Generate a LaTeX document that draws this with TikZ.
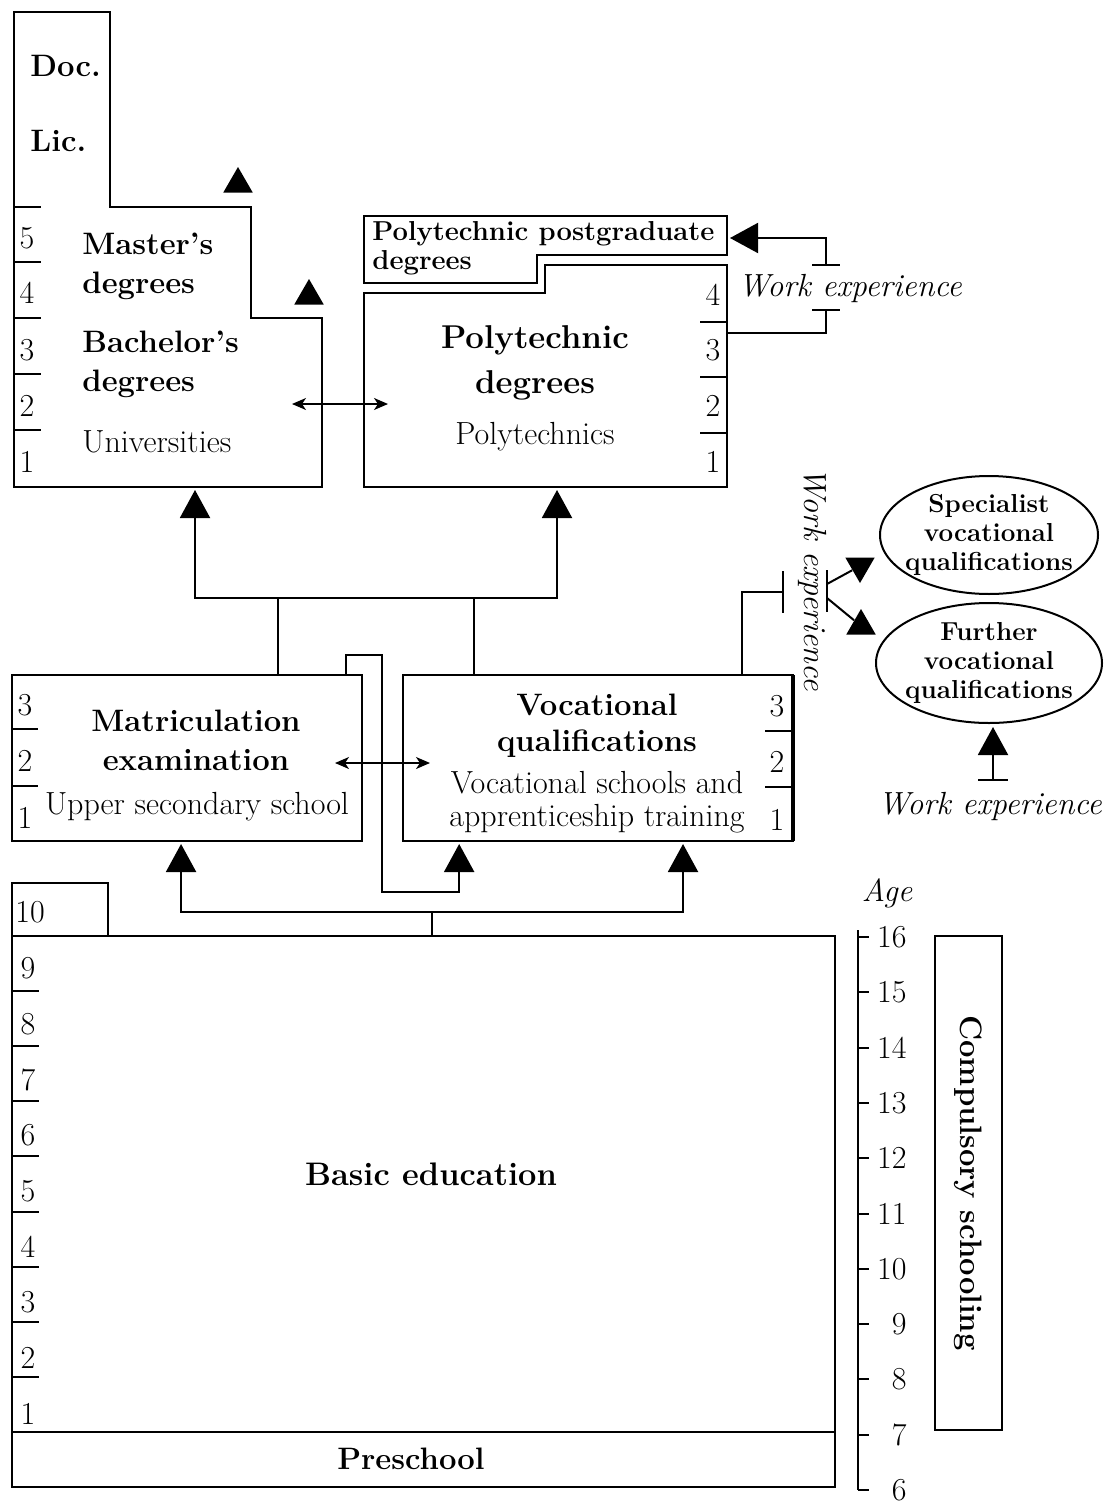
\documentclass[tikz,border=0pt]{standalone}
\usepackage{tikz}
\usetikzlibrary{arrows.meta, positioning, calc, shapes.geometric}

\tikzset{
  outl/.style={draw, line width=1pt, line join=miter},
  box/.style={draw, line width=1pt, outer sep=0pt, inner sep=0pt},
  wire/.style={line width=1pt},
  wbar/.style={line width=1pt},
  upto/.style={wire, -{Triangle[width=15pt,length=14pt]}, shorten >=1.5pt},
  twoway/.style={line width=0.8pt, {Stealth[length=7pt,width=6pt,inset=2pt]}-{Stealth[length=7pt,width=6pt,inset=2pt]}},
  tri/.style={regular polygon, regular polygon sides=3, fill, inner sep=0pt, minimum size=17pt},
  hd/.style={font=\fontsize{15.5}{19.5}\selectfont\bfseries, align=center, inner sep=0pt},
  hdl/.style={font=\fontsize{16.5}{22.5}\selectfont\bfseries, align=center, inner sep=0pt},
  pgt/.style={font=\fontsize{13.7}{14.5}\selectfont\bfseries, align=left, inner sep=0pt},
  sub/.style={font=\fontsize{16}{16.2}\selectfont, align=center, inner sep=0pt},
  yr/.style={font=\fontsize{16}{16}\selectfont, inner sep=0pt},
  wx/.style={font=\fontsize{16}{16}\selectfont\itshape, inner sep=0pt},
  oval/.style={ellipse, draw, line width=1pt, inner sep=-4pt, minimum width=109pt, minimum height=59pt,
    align=center, font=\fontsize{13}{14.3}\selectfont\bfseries}
}

\begin{document}
\begin{tikzpicture}[x=0.5pt, y=-0.5pt]
  \useasboundingbox (0,0) rectangle (1111,1504);

  % universities
  \draw[outl] (14,12) -- (110,12) -- (110,207) -- (251,207) -- (251,318)
    -- (322,318) -- (322,487) -- (14,487) -- cycle;
  \foreach \y in {207,262,318,374,430} \draw[wire] (14,\y) -- ++(27,0);
  \foreach \n/\y in {5/238,4/293,3/350,2/406,1/462} \node[yr] (u\n) at (27,\y) {\n};
  \node[hd, anchor=west] (doc) at (30,66) {Doc.};
  \node[hd, anchor=west] (lic) at (30,141) {Lic.};
  \node[hd, align=left, anchor=west] (mas) at (82,266) {Master's\\degrees};
  \node[hd, align=left, anchor=west] (bach) at (82,364) {Bachelor's\\degrees};
  \node[sub, anchor=west] (univ) at (82,442) {Universities};
  \node[tri] (tr-lic) at (238,184) {};
  \node[tri] (tr-mas) at (309,296) {};
  \coordinate (uni-s) at (195,487);
  \coordinate (uni-e) at (292,404);

  % polytechnics
  \draw[outl] (364,216) -- (727,216) -- (727,255) -- (537,255) -- (537,283) -- (364,283) -- cycle;
  \draw[outl] (364,293) -- (545,293) -- (545,265) -- (727,265) -- (727,487) -- (364,487) -- cycle;
  \foreach \y in {322,377,433} \draw[wire] (727,\y) -- ++(-27,0);
  \foreach \n/\y in {4/295,3/350,2/406,1/462} \node[yr] (p\n) at (713,\y) {\n};
  \node[pgt, anchor=west] (pgrad) at (372,248) {Polytechnic postgraduate\\degrees};
  \node[hdl] (poly) at (535,363) {Polytechnic\\degrees};
  \node[sub] (polys) at (535,437) {Polytechnics};
  \coordinate (pg-e) at (727,238);
  \coordinate (po-e) at (727,333);
  \coordinate (po-s) at (557,487);
  \coordinate (po-w) at (388,404);
  \draw[twoway] (uni-e) -- (po-w);

  % work experience -> postgraduate degrees
  \node[wx] (wx1) at (850,288) {Work experience};
  \coordinate (wx1-lo) at (826,310);
  \coordinate (wx1-hi) at (826,265);
  \draw[wire] (po-e) -| (wx1-lo);
  \draw[wbar] ($(wx1-lo)+(-14,0)$) -- ++(28,0);
  \draw[wbar] ($(wx1-hi)+(-14,0)$) -- ++(28,0);
  \draw[upto] (wx1-hi) |- (pg-e);

  % upper secondary
  \node[box, anchor=north west, minimum width=175pt, minimum height=83pt] (mat) at (12,675) {};
  \node[box, anchor=north west, minimum width=195pt, minimum height=83pt] (voc) at (403,675) {};
  \draw[line width=2pt] (voc.north east) -- (voc.south east);
  \foreach \y in {729,786} \draw[wire] (12,\y) -- ++(26,0);
  \foreach \y in {731,787} \draw[wire] (793,\y) -- ++(-28,0);
  \foreach \n/\y in {3/705,2/761,1/818} \node[yr] (m\n) at (25,\y) {\n};
  \foreach \n/\y in {3/706,2/762,1/820} \node[yr] (v\n) at (777,\y) {\n};
  \node[hd] (matx) at (196,740) {Matriculation\\examination};
  \node[sub] (upsec) at (197,807) {Upper secondary school};
  \node[hd, font=\fontsize{15.5}{18}\selectfont\bfseries] (vocq) at (597,726) {Vocational\\qualifications};
  \node[sub] (vocs) at (597,802) {Vocational schools and\\apprenticeship training};
  \draw[twoway] (335,763) coordinate (mat-e) -- (430,763) coordinate (voc-w);

  % paths into higher education
  \coordinate (jm) at (278,598);
  \coordinate (jv) at (474,598);
  \draw[upto] (jm |- mat.north) -- (jm) -| (uni-s);
  \draw[upto] (jv |- voc.north) -- (jv) -| (po-s);
  \draw[wire] (jm) -- (jv);

  % matriculation -> vocational
  \draw[upto] ($(mat.north east)+(-16,0)$) -- ++(0,-20) -- ++(36,0) -- ++(0,237)
    -| ($(voc.south west)!0.144!(voc.south east)$);

  % vocational -> further studies
  \node[oval] (spec) at (989,535) {Specialist\\vocational\\qualifications};
  \node[oval, minimum width=113pt, minimum height=60pt] (furt) at (989,663) {Further\\vocational\\qualifications};
  \node[wx, rotate=-90] (wx2) at (812,579) {Work experience};
  \coordinate (wx2-l) at (783,592);
  \coordinate (wx2-r) at (827,591);
  \draw[wire] ($(voc.north west)!0.869!(voc.north east)$) |- (wx2-l);
  \draw[wbar] ($(wx2-l)+(0,-21)$) -- ++(0,42);
  \draw[wbar] ($(wx2-r)+(0,-21)$) -- ++(0,42);
  \node[tri, shape border rotate=180] (ta) at (860,566) {};
  \node[tri] (tb) at (861,626) {};
  \draw[wire] ($(wx2-r)+(0,-7)$) -- (ta);
  \draw[wire] ($(wx2-r)+(0,7)$) -- (tb);
  \node[wx] (wx3) at (990,806) {Work experience};
  \coordinate (wx3-t) at (993,780);
  \draw[wbar] ($(wx3-t)+(-15,0)$) -- ++(30,0);
  \draw[upto] (wx3-t) -- (furt.south -| wx3-t);

  % basic education
  \node[box, anchor=north west, minimum width=411.5pt, minimum height=248pt] (bas) at (12,936) {};
  \node[box, anchor=south west, minimum width=48pt, minimum height=26.5pt] (ten) at (12,936) {};
  \node[box, anchor=north west, minimum width=411.5pt, minimum height=27.5pt] (pre) at (12,1432) {};
  \foreach \k in {1,...,8} \draw[wire] (12,{936+55.1*\k}) -- ++(27,0);
  \foreach \n in {1,...,9} \node[yr] (b\n) at (28,{968+55.75*(9-\n)}) {\n};
  \node[yr, anchor=west] (b10) at (15,912) {10};
  \node[hd, font=\fontsize{16.3}{19.5}\selectfont\bfseries] (bast) at (431,1174) {Basic education};
  \node[hd] (pret) at (411,1459) {Preschool};
  \coordinate (hub) at (432,912);
  \draw[wire] (hub |- bas.north) -- (hub);
  \draw[upto] (hub) -| ($(mat.south west)!0.483!(mat.south east)$);
  \draw[upto] (hub) -| ($(voc.south west)!0.718!(voc.south east)$);

  % age scale
  \node[wx] (age) at (887,893) {Age};
  \draw[wire] (858,930) coordinate (ax-t) -- (858,1490) coordinate (ax-b);
  \foreach \a [count=\i from 0] in {16,15,...,6} {
    \draw[wire] (858,{937+55.3*\i}) -- ++(11,0);
    \node[yr, anchor=east] (age\a) at (907,{937+55.3*\i}) {\a};
  }
  \node[box, rotate=-90, minimum width=247pt, minimum height=33.5pt, hd] (comp) at (968,1183) {Compulsory schooling};
\end{tikzpicture}
\end{document}
